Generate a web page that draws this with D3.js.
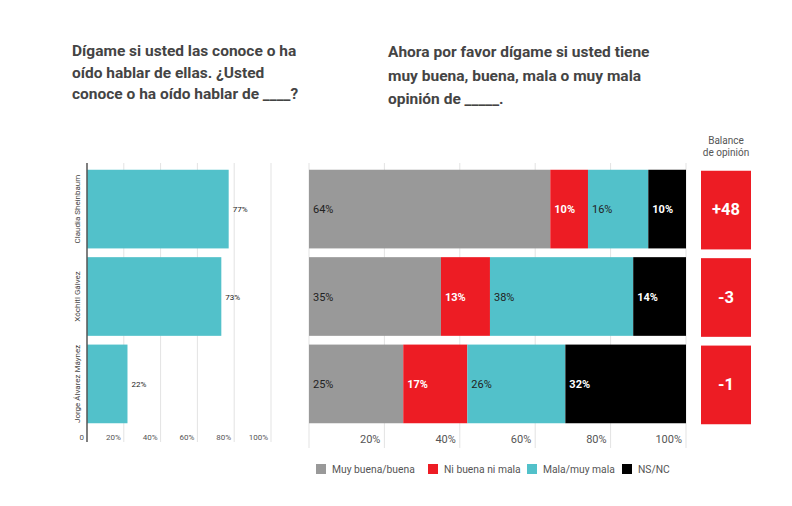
<!DOCTYPE html>
<html><head><meta charset="utf-8">
<script src="https://cdn.jsdelivr.net/npm/d3@7"></script>
<style>body{margin:0;background:#fff}svg{display:block;font-family:Roboto,sans-serif}</style>
</head><body><svg id="c" width="792" height="506"></svg>
<script>
const candidates = ["Claudia Sheinbaum", "Xóchitl Gálvez", "Jorge Álvarez Máynez"];
const knowValues = [77, 73, 22];
const seriesNames = ["Muy buena/buena", "Ni buena ni mala", "Mala/muy mala", "NS/NC"];
const seriesColors = ["#999999", "#ed1c24", "#52c1ca", "#000000"];
const labelColors = ["#222", "#fff", "#222", "#fff"];
const opinionValues = [[64, 10, 16, 10], [35, 13, 38, 14], [25, 17, 26, 32]];
const balanceValues = ["+48", "-3", "-1"];
const leftTicks = [0, 20, 40, 60, 80, 100];
const rightTicks = [20, 40, 60, 80, 100];
const leftTitle = ["Dígame si usted las conoce o ha", "oído hablar de ellas. ¿Usted", "conoce o ha oído hablar de ____?"];
const rightTitle = ["Ahora por favor dígame si usted tiene", "muy buena, buena, mala o muy mala", "opinión de _____."];
const balanceTitle = ["Balance", "de opinión"];

const svg = d3.select("#c");
const y = d3.scaleBand().domain(candidates).range([168, 425]).paddingInner(0.1).paddingOuter(0.02);

// titles
svg.append("text").attr("x", 72).attr("y", 56).attr("font-size", 15.5).attr("font-weight", 700).attr("fill", "#444")
  .selectAll("tspan").data(leftTitle).join("tspan").attr("x", 72).attr("dy", (d, i) => i ? 21.5 : 0).text(d => d);
svg.append("text").attr("x", 388).attr("y", 57).attr("font-size", 15.5).attr("font-weight", 700).attr("fill", "#444")
  .selectAll("tspan").data(rightTitle).join("tspan").attr("x", 388).attr("dy", (d, i) => i ? 23.5 : 0).text(d => d);

// left chart
const xl = d3.scaleLinear().domain([0, 100]).range([87, 271]);
const gl = svg.append("g");
gl.selectAll("line.grid").data(leftTicks.slice(1)).join("line").attr("class", "grid")
  .attr("x1", d => xl(d)).attr("x2", d => xl(d)).attr("y1", 163).attr("y2", 442)
  .attr("stroke", "#e3e3e3").attr("stroke-width", 1);
gl.selectAll("rect").data(knowValues).join("rect")
  .attr("x", xl(0)).attr("y", (d, i) => y(candidates[i])).attr("width", d => xl(d) - xl(0)).attr("height", y.bandwidth())
  .attr("fill", "#52c1ca");
gl.selectAll("text.val").data(knowValues).join("text").attr("class", "val")
  .attr("x", d => xl(d) + 4).attr("y", (d, i) => y(candidates[i]) + y.bandwidth() / 2 + 3)
  .attr("font-size", 8).attr("fill", "#222").text(d => d + "%");
gl.append("line").attr("x1", xl(0)).attr("x2", xl(0)).attr("y1", 163).attr("y2", 442).attr("stroke", "#555").attr("stroke-width", 1.5);
gl.selectAll("text.tick").data(leftTicks).join("text").attr("class", "tick")
  .attr("x", d => xl(d) - 3).attr("y", 440).attr("text-anchor", "end").attr("font-size", 8).attr("fill", "#555")
  .text(d => d === 0 ? "0" : d + "%");
gl.selectAll("text.cat").data(candidates).join("text").attr("class", "cat")
  .attr("transform", d => `translate(80,${y(d) + y.bandwidth() / 2}) rotate(-90)`)
  .attr("text-anchor", "middle").attr("font-size", 8).attr("fill", "#444").text(d => d);

// right chart
const xr = d3.scaleLinear().domain([0, 100]).range([309, 686]);
const gr = svg.append("g");
gr.selectAll("line.grid").data([0].concat(rightTicks)).join("line").attr("class", "grid")
  .attr("x1", d => xr(d)).attr("x2", d => xr(d)).attr("y1", 163).attr("y2", 448)
  .attr("stroke", "#e3e3e3").attr("stroke-width", 1);
const stacked = opinionValues.map((row, i) => {
  let acc = 0;
  return row.map((v, j) => { const s = { row: i, k: j, v, x0: acc, x1: acc + v }; acc += v; return s; });
}).flat();
gr.selectAll("rect").data(stacked).join("rect")
  .attr("x", d => xr(d.x0)).attr("width", d => xr(d.x1) - xr(d.x0))
  .attr("y", d => y(candidates[d.row])).attr("height", y.bandwidth())
  .attr("fill", d => seriesColors[d.k]);
gr.selectAll("text.seg").data(stacked).join("text").attr("class", "seg")
  .attr("x", d => xr(d.x0) + 4).attr("y", d => y(candidates[d.row]) + y.bandwidth() / 2 + 4)
  .attr("font-size", 11).attr("font-weight", d => (d.k === 1 || d.k === 3) ? 700 : 400)
  .attr("fill", d => labelColors[d.k]).text(d => d.v + "%");
gr.selectAll("text.tick").data(rightTicks).join("text").attr("class", "tick")
  .attr("x", d => xr(d) - 4).attr("y", 443).attr("text-anchor", "end").attr("font-size", 11).attr("fill", "#555")
  .text(d => d + "%");

// balance
const gb = svg.append("g");
gb.append("text").attr("text-anchor", "middle").attr("font-size", 10).attr("fill", "#555")
  .selectAll("tspan").data(balanceTitle).join("tspan").attr("x", 726).attr("y", (d, i) => 144 + i * 12).text(d => d);
gb.selectAll("rect").data(balanceValues).join("rect")
  .attr("x", 701).attr("width", 50).attr("y", (d, i) => y(candidates[i]) + 1).attr("height", y.bandwidth())
  .attr("fill", "#ed1c24");
gb.selectAll("text.bal").data(balanceValues).join("text").attr("class", "bal")
  .attr("x", 726).attr("y", (d, i) => y(candidates[i]) + y.bandwidth() / 2 + 6).attr("text-anchor", "middle")
  .attr("font-size", 16.5).attr("font-weight", 700).attr("fill", "#fff").text(d => d);

// legend
const legX = [316, 428, 527, 622];
const lg = svg.append("g");
lg.selectAll("rect").data(seriesNames).join("rect")
  .attr("x", (d, i) => legX[i]).attr("y", 464).attr("width", 10).attr("height", 10).attr("fill", (d, i) => seriesColors[i]);
lg.selectAll("text").data(seriesNames).join("text")
  .attr("x", (d, i) => legX[i] + 16).attr("y", 473).attr("font-size", 10.3).attr("fill", "#555").text(d => d);
</script></body></html>
